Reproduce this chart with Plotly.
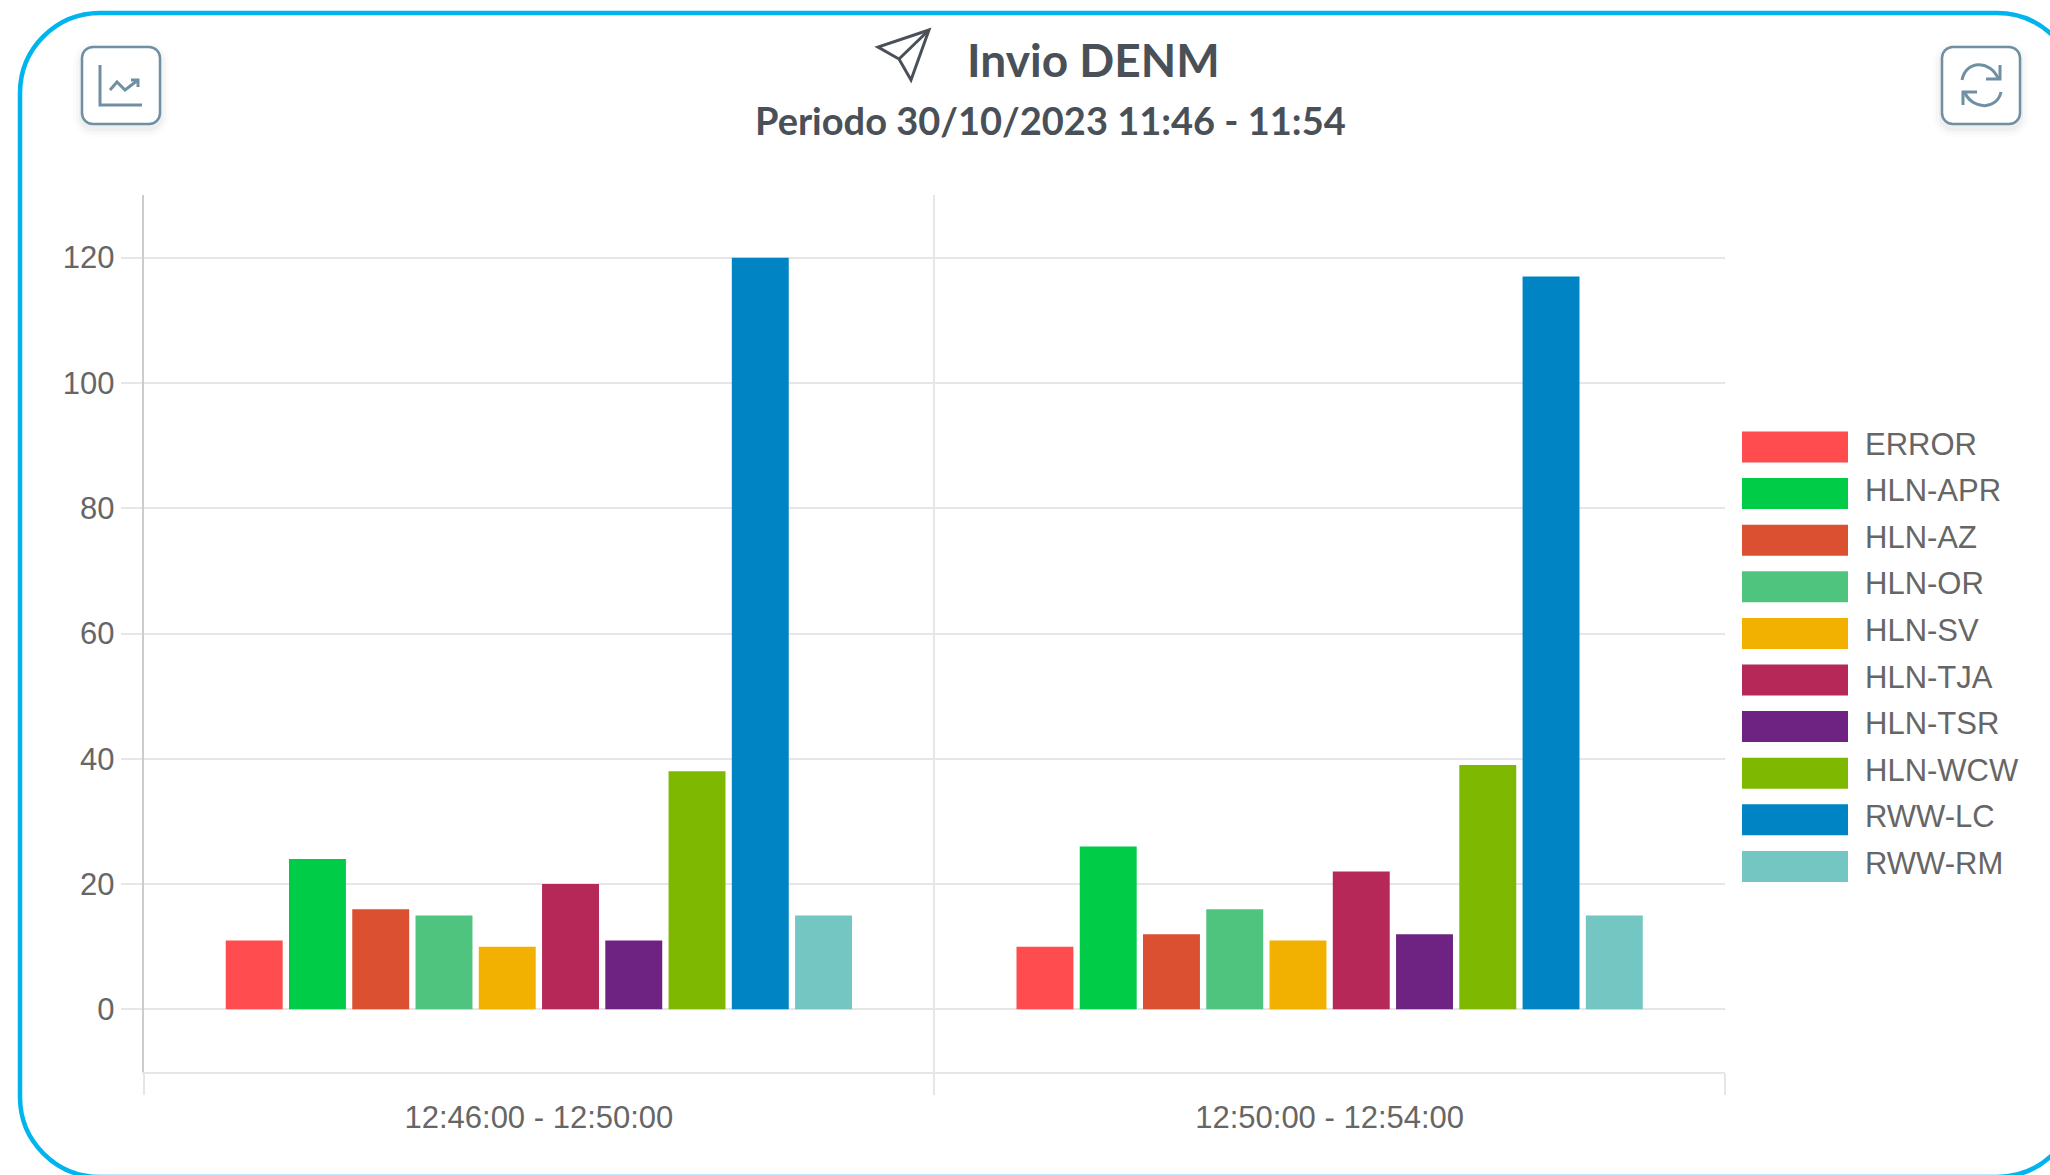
import plotly.graph_objects as go

W, H = 2050, 1175

intervals = ["12:46:00 - 12:50:00", "12:50:00 - 12:54:00"]
series_names = ["ERROR", "HLN-APR", "HLN-AZ", "HLN-OR", "HLN-SV",
                "HLN-TJA", "HLN-TSR", "HLN-WCW", "RWW-LC", "RWW-RM"]
first_interval = [11, 24, 16, 15, 10, 20, 11, 38, 120, 15]
second_interval = [10, 26, 12, 16, 11, 22, 12, 39, 117, 15]
colors = ["#ff4d4f", "#00cc48", "#da5030", "#4fc47f", "#f2b000",
          "#b52858", "#6e2382", "#7eb800", "#0084c3", "#73c6c1"]
y_ticks = [0, 20, 40, 60, 80, 100, 120]

GRID = "#e6e6e6"
TEXT = "#666666"
ICON = "#6f8fa2"
DARK = "#495057"
FRAME = "#00b4ee"


def px(x):
    return x / W


def py(y):
    return 1 - y / H


def path(points):
    """Build an SVG path whose pixel coordinates are mapped to paper space."""
    out = []
    for cmd, *coords in points:
        if cmd == "Z":
            out.append("Z")
            continue
        pairs = [f"{px(coords[i]):.5f},{py(coords[i + 1]):.5f}"
                 for i in range(0, len(coords), 2)]
        out.append(cmd + " ".join(pairs))
    return " ".join(out)


def rounded(x0, y0, x1, y1, r):
    k = r * 0.448
    return path([
        ("M", x0 + r, y0), ("L", x1 - r, y0),
        ("C", x1 - k, y0, x1, y0 + k, x1, y0 + r), ("L", x1, y1 - r),
        ("C", x1, y1 - k, x1 - k, y1, x1 - r, y1), ("L", x0 + r, y1),
        ("C", x0 + k, y1, x0, y1 - k, x0, y1 - r), ("L", x0, y0 + r),
        ("C", x0, y0 + k, x0 + k, y0, x0 + r, y0), ("Z",),
    ])


def stroke(d, color, width=3, fill="rgba(0,0,0,0)"):
    return dict(type="path", xref="paper", yref="paper", path=d, layer="above",
                line=dict(color=color, width=width), fillcolor=fill)


fig = go.Figure()
for i, name in enumerate(series_names):
    fig.add_bar(name=name, x=intervals, y=[first_interval[i], second_interval[i]],
                marker=dict(color=colors[i], line=dict(width=0)))

shapes = [stroke(rounded(20, 13, 2077, 1177, 80), FRAME, 4.5)]

# Buttons with a soft shadow
for bx0, bx1 in ((82, 160), (1942, 2020)):
    for grow, alpha in ((9, 0.012), (6, 0.02), (3, 0.03)):
        shapes.append(dict(type="path", xref="paper", yref="paper", layer="below",
                           path=rounded(bx0 - grow, 47 - grow + 4, bx1 + grow, 124 + grow + 4, 11 + grow),
                           line=dict(width=0), fillcolor=f"rgba(0,0,0,{alpha})"))
    shapes.append(stroke(rounded(bx0, 47, bx1, 124, 11), ICON, 2.5, "#ffffff"))

# Chart icon
shapes += [
    stroke(path([("M", 100, 65), ("L", 100, 105), ("L", 142, 105)]), ICON),
    stroke(path([("M", 110, 90), ("L", 117, 82), ("L", 125, 90), ("L", 138, 80)]), ICON),
    stroke(path([("M", 131, 80), ("L", 138, 80), ("L", 138, 87)]), ICON),
]
# Refresh icon
shapes += [
    stroke(path([("M", 1962, 80), ("C", 1966, 60, 1990, 60, 1998, 78)]), ICON),
    stroke(path([("M", 2000, 65), ("L", 2000, 79), ("L", 1986, 79)]), ICON),
    stroke(path([("M", 2001, 92), ("C", 1997, 110, 1973, 110, 1965, 93)]), ICON),
    stroke(path([("M", 1963, 105), ("L", 1963, 92), ("L", 1977, 92)]), ICON),
]
# Paper plane icon
shapes += [
    stroke(path([("M", 929, 30), ("L", 878, 47), ("L", 899, 59), ("L", 911, 80), ("Z",)]), DARK),
    stroke(path([("M", 899, 59), ("L", 929, 30)]), DARK),
]

annotations = [
    dict(text="Invio DENM", x=px(1093), y=py(60), xref="paper", yref="paper", showarrow=False,
         xanchor="center", yanchor="middle",
         font=dict(family="Lato", size=46, color=DARK, weight=700)),
    dict(text="Periodo 30/10/2023 11:46 - 11:54", x=px(1050), y=py(120), xref="paper", yref="paper",
         showarrow=False, xanchor="center", yanchor="middle",
         font=dict(family="Lato", size=38, color=DARK, weight=700)),
]

# Legend drawn to match the wide colour swatches of the reference
for i, name in enumerate(series_names):
    cy = 447 + i * 46.6
    shapes.append(dict(type="rect", xref="paper", yref="paper", layer="above",
                       x0=px(1742), x1=px(1848), y0=py(cy - 15.5), y1=py(cy + 15.5),
                       line=dict(width=0), fillcolor=colors[i]))
    annotations.append(dict(text=name, x=px(1862.5), y=py(cy - 3), xref="paper", yref="paper",
                            showarrow=False, xanchor="left", yanchor="middle",
                            font=dict(family="Liberation Sans", size=31, color=TEXT)))

fig.update_layout(
    width=W, height=H, autosize=False,
    margin=dict(l=0, r=0, t=0, b=0, pad=0),
    paper_bgcolor="#ffffff", plot_bgcolor="#ffffff",
    barmode="group", bargap=0.2, bargroupgap=0.1,
    showlegend=False,
    shapes=shapes, annotations=annotations,
    font=dict(family="Liberation Sans", size=31, color=TEXT),
    xaxis=dict(domain=[px(143.5), px(1725)], type="category", tickson="boundaries",
               ticks="outside", ticklen=21, tickwidth=1.5, tickcolor=GRID,
               showgrid=True, gridcolor=GRID, gridwidth=1.5,
               showline=True, linecolor=GRID, linewidth=1.5,
               tickfont=dict(family="Liberation Sans", size=31, color=TEXT),
               ticklabelstandoff=17,
               fixedrange=True, automargin=False),
    yaxis=dict(domain=[py(1072), py(195)], range=[-10, 130], tickmode="array",
               tickvals=y_ticks, ticktext=[str(v) for v in y_ticks],
               ticks="outside", ticklen=21, tickwidth=1.5, tickcolor=GRID,
               showgrid=True, gridcolor=GRID, gridwidth=1.5,
               zeroline=True, zerolinecolor=GRID, zerolinewidth=1.5,
               showline=True, linecolor="#cccccc", linewidth=1.5,
               tickfont=dict(family="Liberation Sans", size=31, color=TEXT),
               fixedrange=True, automargin=False),
)

fig.write_html("out.html", config=dict(displayModeBar=False),
               post_script="document.body.style.margin='0';document.body.style.overflow='hidden';")
